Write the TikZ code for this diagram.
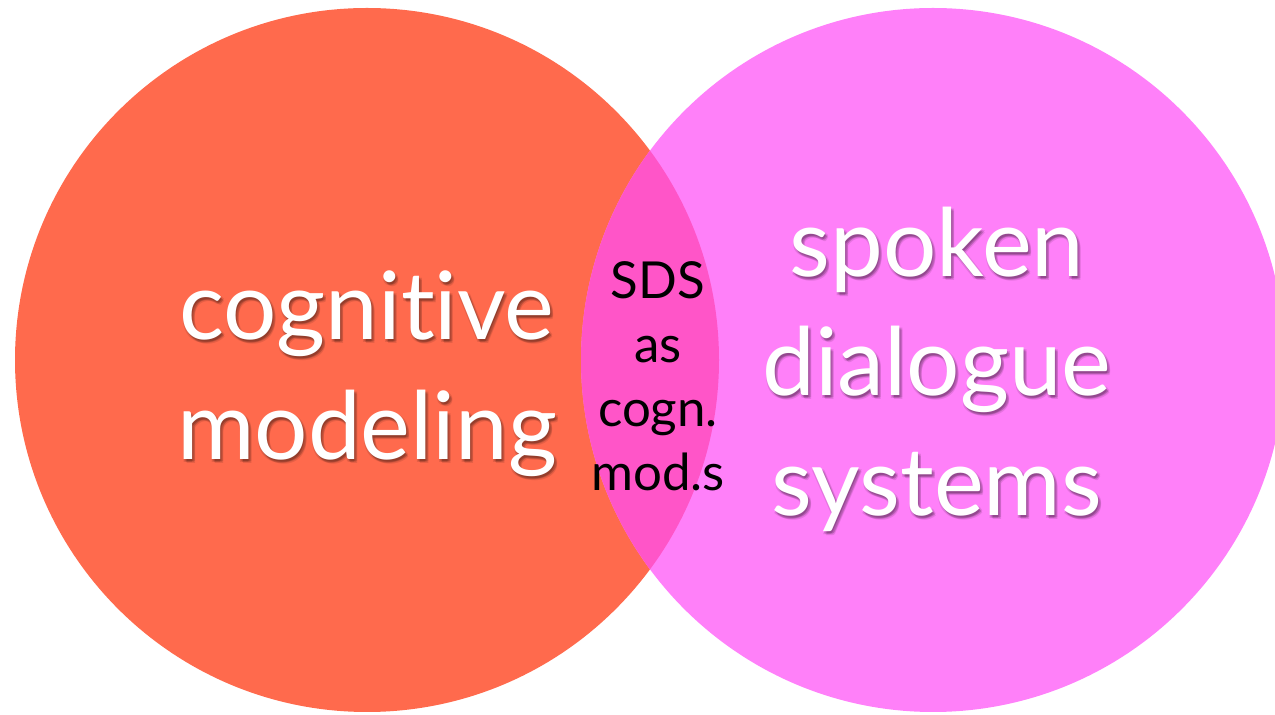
\documentclass[tikz,border=0pt]{standalone}
\usepackage{fontspec}
\setmainfont{Lato}[Ligatures=NoCommon]
\usetikzlibrary{positioning}
\definecolor{cogred}{HTML}{FF6A4D}
\definecolor{sdspink}{HTML}{FF80F9}
\definecolor{lenspink}{HTML}{FF55C8}
\tikzset {
  % white headline text on the circles
  big/.style = {text=white, align=center, font=\fontsize{26.8}{34}\selectfont},
  % dark copies of the headline, shifted, for a soft shadow
  shade/.style = {big, text=black, opacity=0.1},
  % black text inside the overlap
  small/.style = {text=black, align=center, font=\fontsize{14.5}{18.2}\selectfont},
}

\begin{document}
\begin{tikzpicture}[x=0.01cm, y=0.01cm]
      \useasboundingbox (0,0) rectangle (1275,715);

      % the two fields
      \fill[cogred] (367,355) circle [radius=352];
      \fill[sdspink] (933,355) circle [radius=352];
      \begin{scope}
        \clip (367,355) circle [radius=352];
        \fill[lenspink] (933,355) circle [radius=352];
      \end{scope}

      \foreach \dx/\dy in {1/-2, 2/-3, 3/-4, 0/-3, 3/-2} {
        \node[shade] at (367+\dx,341+\dy) {cognitive\\modeling};
        \node[shade] at (937+\dx,346+\dy) {spoken\\dialogue\\systems};
      }
      \node[big] (1) at (367,341) {cognitive\\modeling};
      \node[big] (2) at (937,346) {spoken\\dialogue\\systems};

      \node[small] (3) at (658,339) {SDS\\as\\cogn.\\mod.s};
    \end{tikzpicture}
\end{document}
